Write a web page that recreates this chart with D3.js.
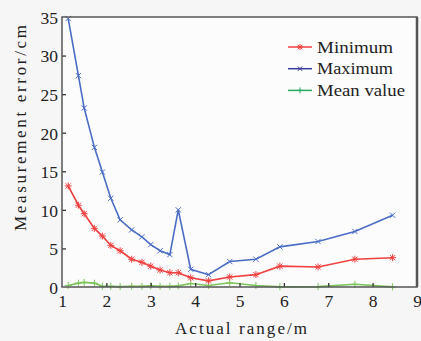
<!DOCTYPE html>
<html><head><meta charset="utf-8">
<script src="https://cdn.jsdelivr.net/npm/d3@7"></script>
<style>html,body{margin:0;padding:0;background:#f6f6f6;}svg{display:block;}</style>
</head><body>
<script>
const ranges = [1.14,1.37,1.50,1.73,1.91,2.10,2.31,2.57,2.80,3.00,3.21,3.43,3.62,3.90,4.30,4.78,5.37,5.91,6.77,7.60,8.45];
const minimum = [13.1,10.6,9.5,7.6,6.6,5.4,4.7,3.6,3.2,2.7,2.2,1.85,1.85,1.2,0.8,1.3,1.6,2.7,2.6,3.6,3.8];
const maximum = [34.8,27.4,23.2,18.1,14.9,11.5,8.7,7.4,6.5,5.5,4.7,4.2,10.0,2.3,1.6,3.3,3.6,5.2,5.9,7.2,9.3];
const meanValue = [0.2,0.5,0.6,0.5,0.1,0.1,0.05,0.1,0.1,0.15,0.1,0.1,0.15,0.45,0.2,0.55,0.2,0.02,0.05,0.35,0.02];
const xTicks = [1,2,3,4,5,6,7,8,9];
const yTicks = [0,5,10,15,20,25,30,35];
const seriesNames = ["Minimum","Maximum","Mean value"];

const W=421,H=341;
const m={l:62,r:4,t:17,b:54};
const FONT="Liberation Serif";
const svg=d3.select("body").append("svg").attr("width",W).attr("height",H).attr("font-family",FONT);
svg.append("rect").attr("width",W).attr("height",H).attr("fill","#f6f6f6");
const x=d3.scaleLinear().domain([1,9]).range([m.l,W-m.r]);
const y=d3.scaleLinear().domain([0,35]).range([H-m.b,m.t]);

svg.append("rect").attr("x",x(1)).attr("y",y(35)).attr("width",x(9)-x(1)).attr("height",y(0)-y(35)).attr("fill","#fcfcfc");

const series=[
  {name:seriesNames[0],vals:minimum,color:"#f04040",lcolor:"#f04040",marker:"star",len:76},
  {name:seriesNames[1],vals:maximum,color:"#4a6cc4",lcolor:"#3a3a9c",marker:"x",len:76},
  {name:seriesNames[2],vals:meanValue,color:"#7cc45a",lcolor:"#25a860",marker:"plus",len:88}
];
function drawMarker(g,type,cx,cy,color,s){
  const p=d3.path();
  if(type==="plus"||type==="star"){p.moveTo(cx-s,cy);p.lineTo(cx+s,cy);p.moveTo(cx,cy-s);p.lineTo(cx,cy+s);}
  if(type==="x"||type==="star"){const k=s*0.75;p.moveTo(cx-k,cy-k);p.lineTo(cx+k,cy+k);p.moveTo(cx-k,cy+k);p.lineTo(cx+k,cy-k);}
  g.append("path").attr("d",p.toString()).attr("stroke",color).attr("stroke-width",1).attr("fill","none");
}
const plot=svg.append("g");
const line=d3.line().x(d=>x(d[0])).y(d=>y(d[1]));
series.slice().reverse().forEach(s=>{
  const pts=ranges.map((r,i)=>[r,s.vals[i]]);
  plot.append("path").datum(pts).attr("d",line).attr("fill","none").attr("stroke",s.color).attr("stroke-width",1.6);
  pts.forEach(p=>drawMarker(plot,s.marker,x(p[0]),y(p[1]),s.color,3.5));
});

// axes
const xa=d3.axisBottom(x).tickValues(xTicks).tickSize(-4).tickPadding(8).tickFormat(d3.format("d"));
const gx=svg.append("g").attr("transform",`translate(0,${y(0)})`).call(xa);
const ya=d3.axisLeft(y).tickValues(yTicks).tickSize(-4).tickPadding(4).tickFormat(d3.format("d"));
const gy=svg.append("g").attr("transform",`translate(${x(1)},0)`).call(ya);
[gx,gy].forEach(g=>{
  g.attr("font-family",FONT).attr("font-size",17.5);
  g.select(".domain").remove();
  g.selectAll(".tick line").attr("stroke","#333").attr("stroke-width",1.3);
  g.selectAll("text").attr("fill","#222");
});
gy.selectAll("text").attr("dy","0.36em");
gx.selectAll(".tick").filter(d=>d===1||d===9).select("line").remove();
gy.selectAll(".tick").filter(d=>d===0||d===35).select("line").remove();
// frame
svg.append("rect").attr("x",x(1)).attr("y",y(35)).attr("width",x(9)-x(1)).attr("height",y(0)-y(35))
  .attr("fill","none").attr("stroke","#555").attr("stroke-width",1.5);
svg.append("line").attr("x1",x(9)).attr("x2",x(9)).attr("y1",y(35)).attr("y2",y(0)).attr("stroke","#555").attr("stroke-width",2.5);

// labels
svg.append("text").attr("x",241).attr("y",334).attr("text-anchor","middle")
  .attr("font-size",17).attr("textLength",132).attr("lengthAdjust","spacing").attr("fill","#222").text("Actual range/m");
svg.append("text").attr("transform",`translate(26,128) rotate(-90)`).attr("text-anchor","middle")
  .attr("font-size",17).attr("textLength",206).attr("lengthAdjust","spacing").attr("fill","#222").text("Measurement error/cm");

// legend
const lg=svg.append("g");
series.forEach((s,i)=>{
  const cy=47+i*21.7;
  lg.append("line").attr("x1",288).attr("x2",312).attr("y1",cy).attr("y2",cy).attr("stroke",s.lcolor).attr("stroke-width",1.5);
  drawMarker(lg,s.marker,300,cy,s.lcolor,3);
  lg.append("text").attr("x",317).attr("y",cy+5.5).attr("font-size",17).attr("textLength",s.len).attr("lengthAdjust","spacingAndGlyphs").attr("fill","#222").text(s.name);
});
</script>
</body></html>
